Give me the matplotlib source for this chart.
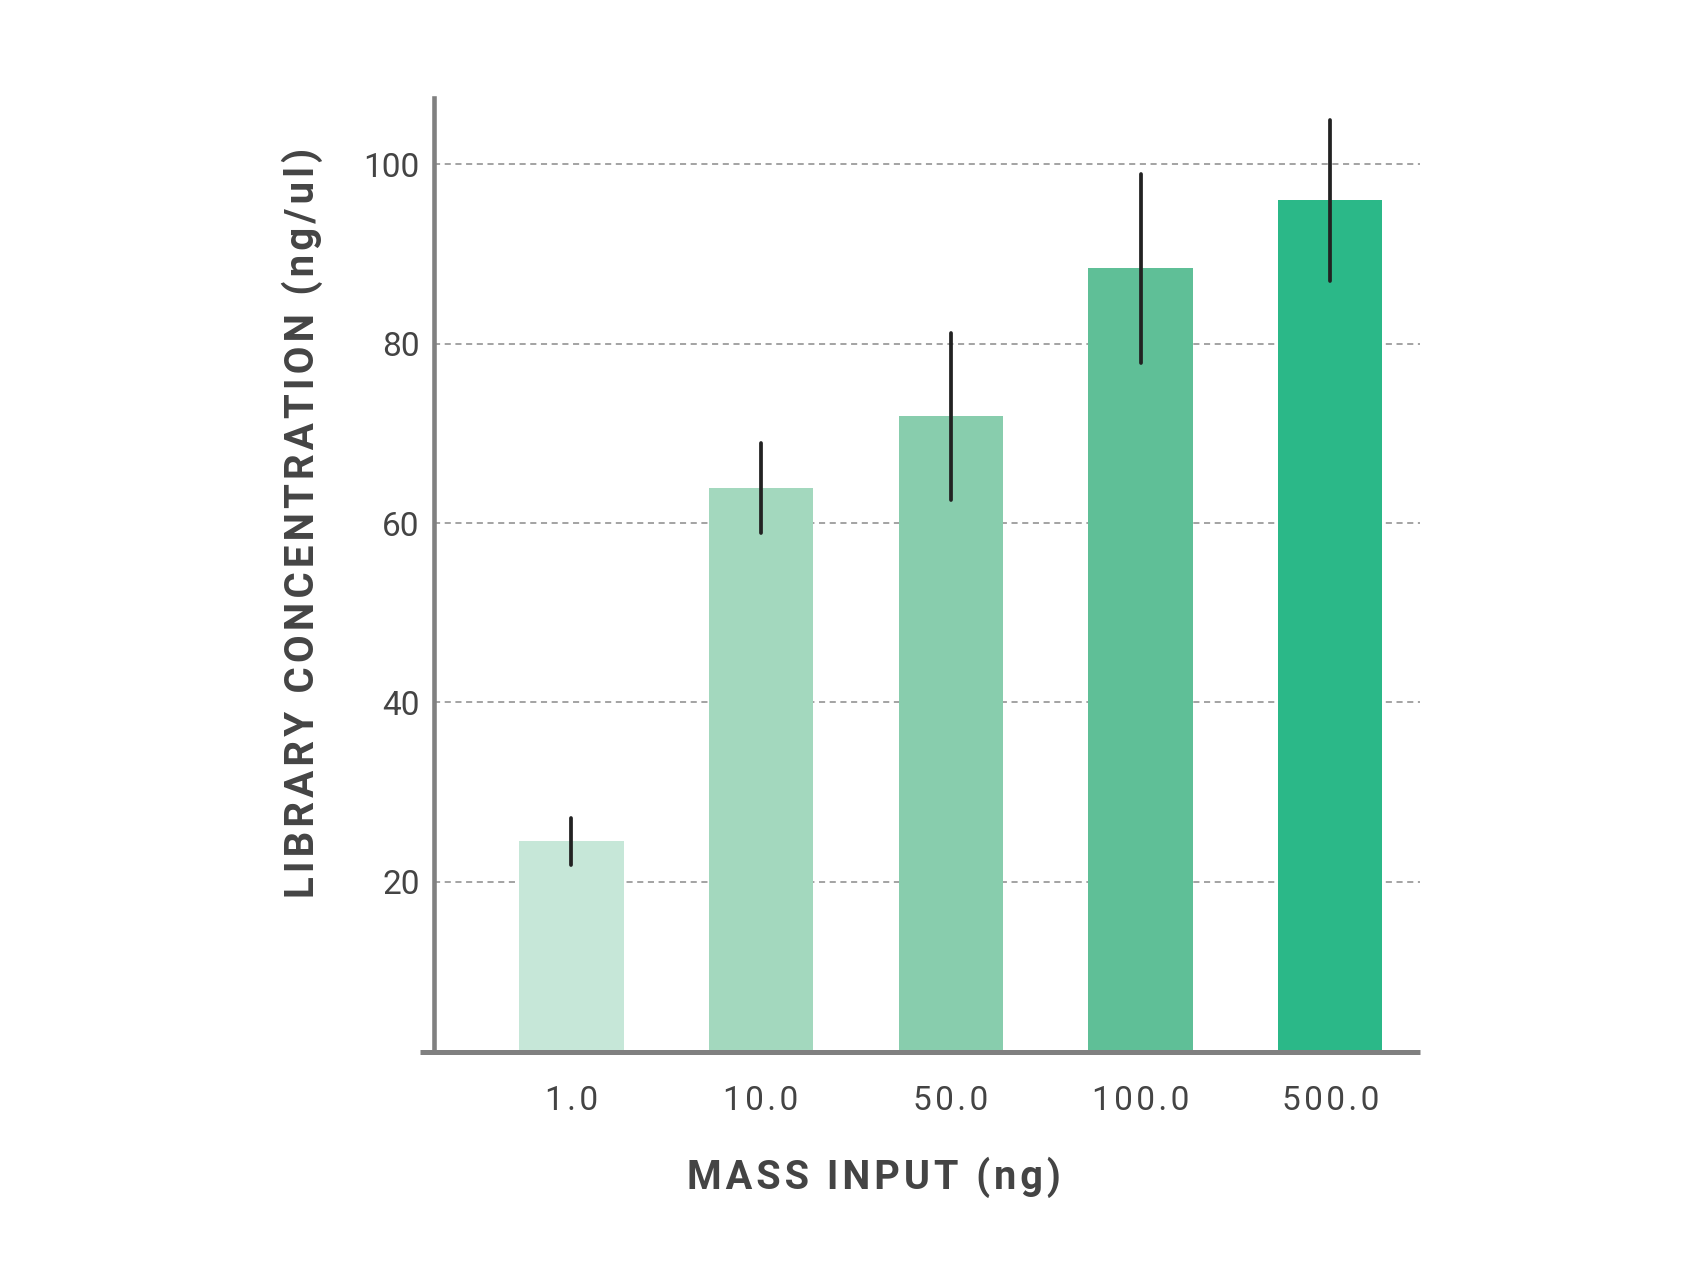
import numpy as np
import matplotlib
matplotlib.use('Agg')
import matplotlib.pyplot as plt

# data
mass_input = ['1.0', '10.0', '50.0', '100.0', '500.0']
concentration = [24.5, 63.9, 71.9, 88.4, 96.0]
conc_err = [2.6, 5.0, 9.3, 10.5, 9.0]
bar_colors = ['#C6E7D8', '#A3D8BE', '#88CDAD', '#5FBF97', '#2BB888']
y_ticks = [20, 40, 60, 80, 100]

plt.rcParams['font.family'] = ['Roboto', 'DejaVu Sans']

HAIR = '\u200a'


def tracked(s):
    # fake letter spacing with hair spaces
    return HAIR.join(s)


fig = plt.figure(figsize=(17, 12.75), dpi=100)
ax = fig.add_axes([0.2551, 0.1749, 0.8353 - 0.2551, 0.9231 - 0.1749])

x = np.arange(len(mass_input))
ax.bar(x, concentration, width=0.55, color=bar_colors, zorder=2)
eb = ax.errorbar(x, concentration, yerr=conc_err, fmt='none', ecolor='#222222',
                 elinewidth=2.7, capsize=0, zorder=3)
for coll in eb[2]:
    coll.set_capstyle('round')

ax.set_xlim(-0.726, 4.473)
ax.set_ylim(1.0, 107.4)

ax.set_yticks(y_ticks)
ax.set_yticklabels([str(v) for v in y_ticks])
ax.set_xticks(x)
ax.set_xticklabels([tracked(m) for m in mass_input])
ax.tick_params(axis='both', length=0, labelsize=24, labelcolor='#444444')
ax.tick_params(axis='y', pad=10)
ax.tick_params(axis='x', pad=24)

ax.yaxis.grid(True, color='#8a8a8a', linestyle=(0, (4, 3)), linewidth=1.1, zorder=0)
ax.set_axisbelow(True)

for s in ['top', 'right', 'bottom']:
    ax.spines[s].set_visible(False)
ax.spines['left'].set_color('#808080')
ax.spines['left'].set_linewidth(3.3)
# x axis line extends a little past the y axis on the left
ax.plot([-0.0135, 1.0], [0, 0], transform=ax.transAxes, color='#808080',
        linewidth=3.6, clip_on=False, zorder=4, solid_capstyle='butt')

ax.set_xlabel(tracked('MASS INPUT (ng)'), fontsize=28.5, fontweight='bold',
              color='#444444')
ax.set_ylabel(tracked('LIBRARY CONCENTRATION (ng/ul)'), fontsize=29,
              fontweight='bold', color='#444444')
ax.xaxis.set_label_coords(0.4466, -0.1095)
ax.yaxis.set_label_coords(-0.112, 0.5545)

fig.savefig('out.png', dpi=100)
